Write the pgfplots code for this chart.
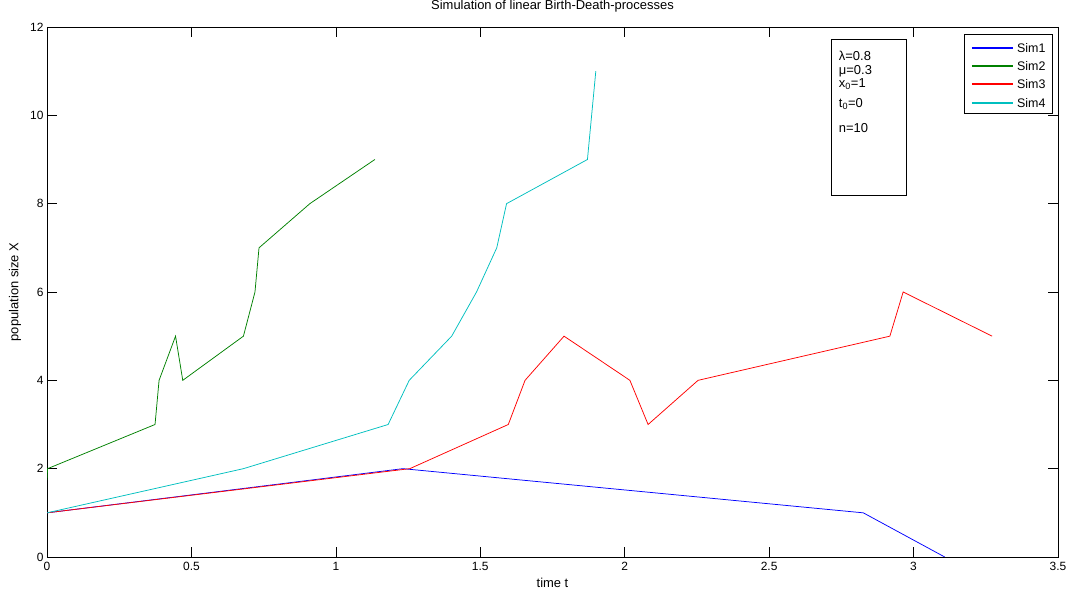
\documentclass[border=0pt]{standalone}
\usepackage{fontspec}
\setmainfont{Liberation Sans}
\usepackage{pgfplots}
\pgfplotsset{compat=1.18}
\definecolor{mblue}{rgb}{0,0,1}
\definecolor{mgreen}{rgb}{0,0.5,0}
\definecolor{mred}{rgb}{1,0,0}
\definecolor{mcyan}{rgb}{0,0.75,0.75}
\begin{document}
\begin{tikzpicture}
\useasboundingbox (-47bp,-36bp) rectangle (1031bp,557bp);
\begin{axis}[
  at={(0,0)}, anchor=south west,
  scale only axis, width=1011bp, height=530bp,
  xmin=0, xmax=3.5, ymin=0, ymax=12,
  xtick={0,0.5,...,3.5}, ytick={0,2,...,12},
  xticklabels={0,0.5,1,1.5,2,2.5,3,3.5},
  tick align=inside, major tick length=10bp,
  tick style={black, line width=0.6bp},
  axis line style={line width=0.8bp},
  font=\fontsize{12}{13}\selectfont,
  /pgf/number format/assume math mode=true,
  xticklabel style={yshift=-1.5bp},
  title={Simulation of linear Birth-Death-processes},
  title style={at={(axis description cs:0.5,1.0283)}, anchor=center, font=\fontsize{13}{14}\selectfont},
  xlabel={time t},
  xlabel style={at={(axis description cs:0.5,-0.0490)}, anchor=center, font=\fontsize{13}{14}\selectfont},
  ylabel={population size X},
  ylabel style={at={(axis description cs:-0.0317,0.5)}, anchor=center, font=\fontsize{13}{14}\selectfont},
  every axis plot/.append style={line width=0.75bp},
]
\addplot[color=mblue] coordinates {(0,1) (1.232,2) (2.826,1) (3.108,0)};
\addplot[color=mgreen] coordinates {(0,1.74) (0.002,2.0) (0.374,3) (0.388,4) (0.445,5) (0.470,4) (0.680,5) (0.720,6) (0.734,7) (0.910,8) (1.135,9)};
\addplot[color=mred] coordinates {(0,1) (1.256,2) (1.597,3) (1.655,4) (1.790,5) (2.018,4) (2.081,3) (2.254,4) (2.918,5) (2.964,6) (3.272,5)};
\addplot[color=mcyan] coordinates {(0,1) (0.680,2) (1.181,3) (1.254,4) (1.401,5) (1.487,6) (1.557,7) (1.591,8) (1.871,9) (1.900,11)};
% legend (drawn by hand)
\draw[line width=0.7bp, fill=white] (axis description cs:0.907,0.987) rectangle (axis description cs:0.994,0.838);
\draw[mblue, line width=1.1bp] (axis description cs:0.9149,0.9604) -- (axis description cs:0.9555,0.9604);
\draw[mgreen, line width=1.1bp] (axis description cs:0.9149,0.9264) -- (axis description cs:0.9555,0.9264);
\draw[mred, line width=1.1bp] (axis description cs:0.9149,0.8925) -- (axis description cs:0.9555,0.8925);
\draw[mcyan, line width=1.1bp] (axis description cs:0.9149,0.8566) -- (axis description cs:0.9555,0.8566);
\node[anchor=west, inner sep=0pt, font=\fontsize{12.5}{13}\selectfont] at (axis description cs:0.9594,0.9604) {Sim1};
\node[anchor=west, inner sep=0pt, font=\fontsize{12.5}{13}\selectfont] at (axis description cs:0.9594,0.9264) {Sim2};
\node[anchor=west, inner sep=0pt, font=\fontsize{12.5}{13}\selectfont] at (axis description cs:0.9594,0.8925) {Sim3};
\node[anchor=west, inner sep=0pt, font=\fontsize{12.5}{13}\selectfont] at (axis description cs:0.9594,0.8566) {Sim4};
% parameter box
\draw[line width=0.7bp] (axis cs:2.717,11.72) rectangle (axis cs:2.976,8.19);
\node[anchor=west, inner sep=0pt, font=\fontsize{13}{14}\selectfont] at (axis cs:2.741,11.35) {λ=0.8};
\node[anchor=west, inner sep=0pt, font=\fontsize{13}{14}\selectfont] at (axis cs:2.741,11.0) {μ=0.3};
\node[anchor=west, inner sep=0pt, font=\fontsize{13}{14}\selectfont] at (axis cs:2.741,10.7) {x\textsubscript{0}=1};
\node[anchor=west, inner sep=0pt, font=\fontsize{13}{14}\selectfont] at (axis cs:2.741,10.25) {t\textsubscript{0}=0};
\node[anchor=west, inner sep=0pt, font=\fontsize{13}{14}\selectfont] at (axis cs:2.741,9.72) {n=10};
\end{axis}
\end{tikzpicture}
\end{document}
